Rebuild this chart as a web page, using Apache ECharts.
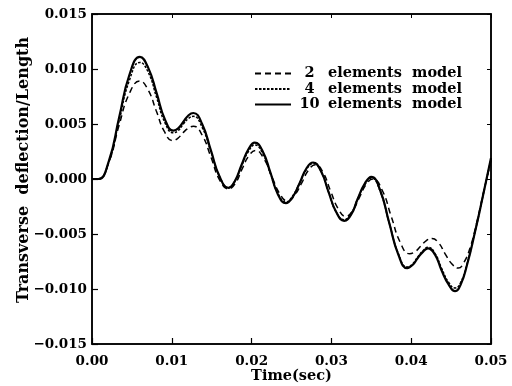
<!DOCTYPE html>
<html>
<head>
<meta charset="utf-8">
<script src="https://cdn.jsdelivr.net/npm/echarts@6/dist/echarts.min.js"></script>
<style>html,body{margin:0;padding:0;background:#fff}#c{width:512px;height:386px}</style>
</head>
<body>
<div id="c"></div>
<script>
// time samples (s) for the 4- and 10-element curves
var time10 = [0, 0.0008, 0.0021, 0.0034, 0.0047, 0.0060, 0.00705, 0.0081, 0.00915, 0.0102,
  0.0108, 0.01145, 0.0121, 0.0127, 0.0138, 0.0149, 0.0160, 0.0171, 0.0179, 0.01875,
  0.0196, 0.0204, 0.0214, 0.02235, 0.0233, 0.0243, 0.0251, 0.0260, 0.0269, 0.0277,
  0.0287, 0.02965, 0.0306, 0.0316, 0.0325, 0.0333, 0.0342, 0.0350, 0.0361, 0.03725,
  0.0384, 0.0395, 0.0402, 0.0408, 0.0415, 0.0421, 0.0430, 0.0438, 0.0447, 0.0455,
  0.0462, 0.0470, 0.0480, 0.0490, 0.0500];

var el10 = [0, 0, 0.0016, 0.0056, 0.0095, 0.0111, 0.0101, 0.0078, 0.0054, 0.0044,
  0.0046, 0.0052, 0.0058, 0.0060, 0.0050, 0.0026, 0.0002, -0.0008, -0.0002, 0.0013,
  0.0027, 0.0033, 0.0025, 0.0006, -0.0014, -0.0022, -0.0017, -0.0004, 0.0010, 0.0015,
  0.0007, -0.0012, -0.0030, -0.0038, -0.0032, -0.0018, -0.0004, 0.0002, -0.0010, -0.0040,
  -0.0069, -0.0081, -0.0078, -0.0072, -0.0066, -0.0063, -0.0069, -0.0083, -0.0096, -0.0102,
  -0.0096, -0.0078, -0.0048, -0.0015, 0.0019];

var el4 = [0, 0, 0.0015, 0.0053, 0.0090, 0.0106, 0.0097, 0.0074, 0.0051, 0.0042,
  0.0044, 0.0050, 0.0055, 0.0057, 0.0047, 0.0025, 0.0002, -0.0008, -0.0002, 0.0012,
  0.0025, 0.0031, 0.0023, 0.0005, -0.0013, -0.0021, -0.0016, -0.0004, 0.0009, 0.0014,
  0.0007, -0.0012, -0.0030, -0.0037, -0.0031, -0.0018, -0.0005, 0.0001, -0.0011, -0.0040,
  -0.0068, -0.0080, -0.0077, -0.0071, -0.0065, -0.0062, -0.0068, -0.0081, -0.0094, -0.0099,
  -0.0094, -0.0077, -0.0048, -0.0015, 0.0018];

// time samples (s) for the 2-element curve
var time2 = [0, 0.0008, 0.0021, 0.0034, 0.0047, 0.0060, 0.00703, 0.00805, 0.00908, 0.0101,
  0.01075, 0.0114, 0.01205, 0.0127, 0.0138, 0.0149, 0.0160, 0.0171, 0.01795, 0.0188,
  0.01965, 0.0205, 0.0215, 0.0225, 0.0235, 0.0245, 0.02538, 0.02625, 0.02713, 0.0280,
  0.02895, 0.0299, 0.03085, 0.0318, 0.03265, 0.0335, 0.03435, 0.0352, 0.03635, 0.0375,
  0.03865, 0.0398, 0.0405, 0.0412, 0.0419, 0.0426, 0.04343, 0.04425, 0.04508, 0.0459,
  0.0466, 0.0474, 0.0482, 0.0491, 0.0500];

var el2 = [0, 0, 0.0015, 0.0049, 0.0078, 0.0089, 0.0081, 0.0062, 0.0043, 0.0035,
  0.0037, 0.0042, 0.0046, 0.0048, 0.0040, 0.0020, -0.0001, -0.0009, -0.0004, 0.0009,
  0.0021, 0.0026, 0.0019, 0.0003, -0.0013, -0.0020, -0.0015, -0.0004, 0.0008, 0.0013,
  0.0006, -0.0011, -0.0027, -0.0034, -0.0029, -0.0017, -0.0005, 0.0000, -0.0010, -0.0034,
  -0.0058, -0.0068, -0.0066, -0.0061, -0.0056, -0.0054, -0.0058, -0.0068, -0.0077, -0.0081,
  -0.0076, -0.0062, -0.0040, -0.0011, 0.0017];

var seriesNames = ['2 elements model','4 elements model','10 elements model'];
var xTicks = {min:0, max:0.05, interval:0.01};
var yTicks = {min:-0.015, max:0.015, interval:0.005};

function pairs(ts, ys){ return ys.map(function(v,i){ return [ts[i], v]; }); }
function fmtY(v){ if (Math.abs(v) < 1e-9) return '0.000'; var s = Math.abs(v).toFixed(3); return (v < 0 ? '\u2212' : '') + s; }

var FONT = 'DejaVu Serif';
var chart = echarts.init(document.getElementById('c'), null, {renderer:'canvas'});
var axisLine = {show:true, onZero:false, lineStyle:{color:'#000', width:1.5}};
chart.setOption({
  animation:false,
  backgroundColor:'#fff',
  grid:{left:92, right:21, top:14, bottom:42, containLabel:false, outerBoundsMode:'none',
    show:true, borderColor:'#000', borderWidth:1.5},
  legend:{
    show:true, orient:'vertical', left:254, top:66, padding:0,
    itemWidth:36, itemHeight:14, itemGap:0.5,
    data:seriesNames,
    itemStyle:{opacity:0},
    formatter:function(name){
      var parts = name.split(' ');
      return '{n|' + parts[0] + '} ' + parts.slice(1).join('  ');
    },
    textStyle:{fontFamily:FONT, fontWeight:'bold', fontSize:14.5, color:'#000',
      rich:{n:{width:27, align:'right', fontFamily:FONT, fontWeight:'bold', fontSize:14.5, color:'#000'}}}
  },
  xAxis:[{
    type:'value', min:xTicks.min, max:xTicks.max, interval:xTicks.interval,
    axisLine:axisLine,
    axisTick:{show:true, inside:true, length:6, lineStyle:{color:'#000', width:1.2}},
    axisLabel:{fontFamily:FONT, fontWeight:'bold', fontSize:13.5, color:'#000', margin:10,
      formatter:function(v){ return v.toFixed(2); }},
    splitLine:{show:false},
    name:'Time(sec)', nameLocation:'middle', nameGap:25, nameMoveOverlap:false,
    nameTextStyle:{fontFamily:FONT, fontWeight:'bold', fontSize:14.5, color:'#000'}
  },{
    type:'value', position:'top', min:xTicks.min, max:xTicks.max, interval:xTicks.interval,
    axisLine:axisLine, axisLabel:{show:false},
    axisTick:{show:true, inside:true, length:4, lineStyle:{color:'#000', width:1}},
    splitLine:{show:false}
  }],
  yAxis:[{
    type:'value', min:yTicks.min, max:yTicks.max, interval:yTicks.interval,
    axisLine:axisLine,
    axisTick:{show:true, inside:true, length:6, lineStyle:{color:'#000', width:1.2}},
    axisLabel:{fontFamily:FONT, fontWeight:'bold', fontSize:13.5, color:'#000', margin:5, formatter:fmtY},
    splitLine:{show:false},
    name:'Transverse  deflection/Length', nameLocation:'middle', nameGap:60, nameRotate:90, nameMoveOverlap:false,
    nameTextStyle:{fontFamily:FONT, fontWeight:'bold', fontSize:16, color:'#000', padding:[0,0,0,18]}
  },{
    type:'value', position:'right', min:yTicks.min, max:yTicks.max, interval:yTicks.interval,
    axisLine:axisLine, axisLabel:{show:false},
    axisTick:{show:true, inside:true, length:4, lineStyle:{color:'#000', width:1}},
    splitLine:{show:false}
  }],
  series:[
    {name:seriesNames[0], type:'line', smooth:true, symbol:'none', data:pairs(time2, el2), z:2,
      itemStyle:{color:'#000'}, lineStyle:{color:'#000', width:1.5, type:[6,4]}},
    {name:seriesNames[1], type:'line', smooth:true, symbol:'none', data:pairs(time10, el4), z:3,
      itemStyle:{color:'#000'}, lineStyle:{color:'#000', width:1.5, type:[2.5,1.5]}},
    {name:seriesNames[2], type:'line', smooth:true, symbol:'none', data:pairs(time10, el10), z:4,
      itemStyle:{color:'#000'}, lineStyle:{color:'#000', width:2.2, type:'solid'}}
  ]
});
</script>
</body>
</html>
